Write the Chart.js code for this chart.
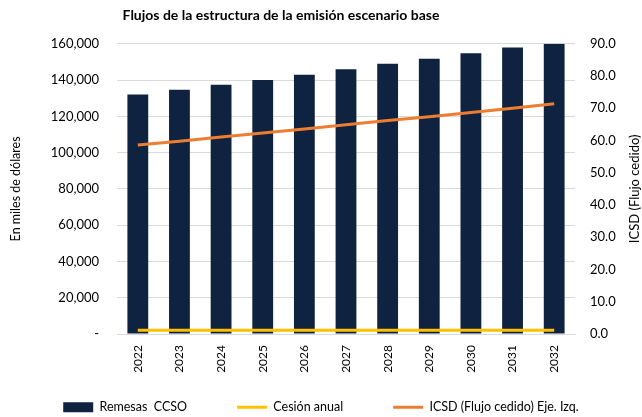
<!DOCTYPE html>
<html>
<head>
<meta charset="utf-8">
<script src="https://cdn.jsdelivr.net/npm/chart.js@4/dist/chart.umd.min.js"></script>
<style>
html,body{margin:0;padding:0;background:#fff;}
#wrap{width:642px;height:417px;}
</style>
</head>
<body>
<div id="wrap"><canvas id="c" width="642" height="417"></canvas></div>
<script>
const years = ['2022','2023','2024','2025','2026','2027','2028','2029','2030','2031','2032'];
const remesas = [132000,134600,137400,140000,143000,146000,149000,151700,154800,157900,160000];
const cesionAnual = [1.2,1.2,1.2,1.2,1.2,1.2,1.2,1.2,1.2,1.2,1.2];
const icsd = [58.6,59.8,61.1,62.3,63.6,64.9,66.2,67.4,68.7,70.0,71.4];
const leftTicks = [0,20000,40000,60000,80000,100000,120000,140000,160000];
const rightTicks = [0,10,20,30,40,50,60,70,80,90];
const rightTitle = 'ICSD (Flujo cedido)';

const FONT = 'Lato';
const LEGEND_PAD = 50;
const adjustBlocks = {
  id: 'adjustBlocks',
  afterLayout(chart) {
    if (chart.titleBlock) { chart.titleBlock.right = chart.titleBlock.right - 80; }
    const lg = chart.legend;
    if (lg) {
      lg.top = 407 - LEGEND_PAD - 6;
      lg.bottom = chart.height;
      lg.height = lg.bottom - lg.top;
    }
  },
  afterDraw(chart) {
    const ctx = chart.ctx;
    const a = chart.chartArea;
    ctx.save();
    ctx.translate(635, (a.top + a.bottom) / 2);
    ctx.rotate(-Math.PI / 2);
    ctx.font = '13px ' + FONT;
    ctx.fillStyle = '#000';
    ctx.textAlign = 'center';
    ctx.textBaseline = 'middle';
    ctx.fillText(rightTitle, 0, 0);
    ctx.restore();
  }
};

new Chart(document.getElementById('c'), {
  data: {
    labels: years,
    datasets: [
      { type: 'bar', label: 'Remesas  CCSO', data: remesas, backgroundColor: '#0F2341', borderWidth: 0,
        barPercentage: 0.5, categoryPercentage: 1.0, yAxisID: 'y', order: 3, pointStyle: 'rect' },
      { type: 'line', label: 'Cesión anual', data: cesionAnual, borderColor: '#FFC000', backgroundColor: '#FFC000',
        borderWidth: 3, pointRadius: 0, yAxisID: 'y1', order: 1, pointStyle: 'line' },
      { type: 'line', label: 'ICSD (Flujo cedido) Eje. Izq.', data: icsd, borderColor: '#ED7D31', backgroundColor: '#ED7D31',
        borderWidth: 3, pointRadius: 0, yAxisID: 'y1', order: 1, pointStyle: 'line' }
    ]
  },
  options: {
    responsive: false,
    animation: false,
    layout: { padding: 0 },
    plugins: {
      title: { display: true, text: 'Flujos de la estructura de la emisión escenario base',
        font: { family: FONT, size: 14, weight: 'bold' }, color: '#000', padding: { top: 7, bottom: 20 } },
      legend: { position: 'bottom', maxHeight: 44,
        labels: { usePointStyle: true, pointStyleWidth: 30, boxHeight: 10, padding: LEGEND_PAD,
          font: { family: FONT, size: 12.5 }, color: '#000',
          sort: (a, b) => a.datasetIndex - b.datasetIndex } },
      tooltip: { enabled: false }
    },
    scales: {
      x: {
        grid: { display: false, drawTicks: false },
        border: { display: true, color: '#D9D9D9' },
        ticks: { font: { family: FONT, size: 12 }, color: '#000', minRotation: 90, maxRotation: 90, padding: 11, autoSkip: false },
        afterFit(s) { s.height = 39; }
      },
      y: {
        position: 'left', min: 0, max: 160000,
        afterBuildTicks(s) { s.ticks = leftTicks.map(v => ({ value: v })); },
        grid: { color: '#D9D9D9', drawTicks: false },
        border: { display: false },
        ticks: { font: { family: FONT, size: 13 }, color: '#000', padding: 18,
          callback: v => v === 0 ? '-' : v.toLocaleString('en-US') },
        title: { display: true, text: 'En miles de dólares', font: { family: FONT, size: 12.5 }, color: '#000', padding: 8 },
        afterFit(s) { s.width = 117; }
      },
      y1: {
        position: 'right', min: 0, max: 90,
        afterBuildTicks(s) { s.ticks = rightTicks.map(v => ({ value: v })); },
        grid: { display: false, drawTicks: false },
        border: { display: false },
        ticks: { font: { family: FONT, size: 13 }, color: '#000', padding: 15,
          callback: v => v.toFixed(1) },
        title: { display: false },
        afterFit(s) { s.width = 67; }
      }
    }
  },
  plugins: [adjustBlocks]
});
</script>
</body>
</html>
